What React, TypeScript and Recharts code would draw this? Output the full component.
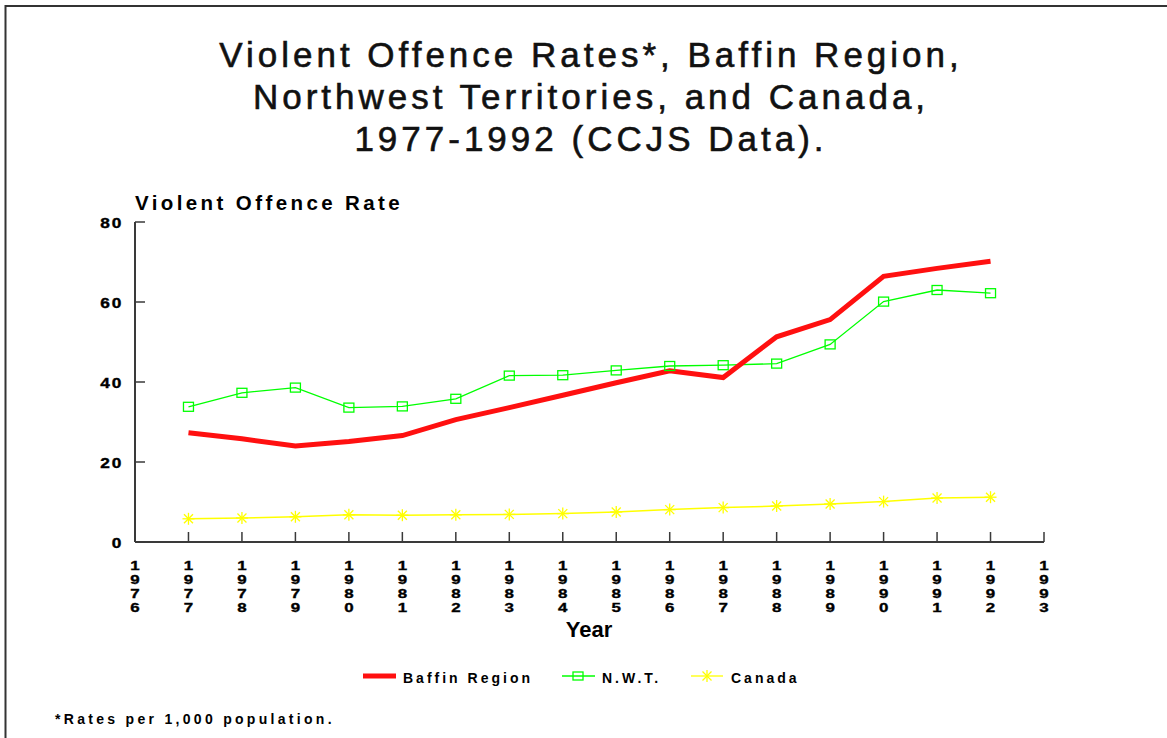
import React from 'react';
import { LineChart, Line, XAxis, YAxis } from 'recharts';

const years = [1977, 1978, 1979, 1980, 1981, 1982, 1983, 1984, 1985, 1986, 1987, 1988, 1989, 1990, 1991, 1992];
const baffinRegion = [27.3, 25.8, 24.0, 25.1, 26.6, 30.6, 33.6, 36.7, 39.8, 42.8, 41.1, 51.3, 55.6, 66.4, 68.4, 70.2];
const nwt = [33.8, 37.3, 38.6, 33.6, 33.9, 35.8, 41.6, 41.7, 42.9, 44.0, 44.2, 44.6, 49.4, 60.1, 63.0, 62.2];
const canada = [5.8, 6.0, 6.3, 6.8, 6.7, 6.8, 6.9, 7.1, 7.5, 8.1, 8.6, 9.0, 9.5, 10.1, 11.0, 11.2];
const yTicks = [0, 20, 40, 60, 80];
const xTicks = [1976, 1977, 1978, 1979, 1980, 1981, 1982, 1983, 1984, 1985, 1986, 1987, 1988, 1989, 1990, 1991, 1992, 1993];
const titleLines = [
  'Violent Offence Rates*, Baffin Region,',
  'Northwest Territories, and Canada,',
  '1977-1992 (CCJS Data).',
];
const seriesNames = ['Baffin Region', 'N.W.T.', 'Canada'];

const data = years.map((year, i) => ({
  year,
  baffin: baffinRegion[i],
  nwt: nwt[i],
  canada: canada[i],
}));

const FONT = '"Liberation Sans", Arial, Helvetica, sans-serif';
const AXIS = '#3a3a3a';
const RED = '#ff1010';
const GREEN = '#00ff00';
const YELLOW = '#ffff00';

const XTick = (props: any) => {
  const { x, y, payload } = props;
  const digits = String(payload.value).split('');
  return (
    <g>
      <line x1={x} y1={y} x2={x} y2={y - 10} stroke={AXIS} strokeWidth={1.5} />
      <text
        transform={`translate(${x},${y + 28}) scale(1.3,1.05)`}
        textAnchor="middle"
        fontFamily={FONT}
        fontWeight="bold"
        fontSize={13}
        stroke="#000"
        strokeWidth={0.35}
        fill="#000"
      >
        {digits.map((d, i) => (
          <tspan key={i} x={0} y={i * 13.2}>
            {d}
          </tspan>
        ))}
      </text>
    </g>
  );
};

const YTick = (props: any) => {
  const { x, y, payload } = props;
  return (
    <g>
      <line x1={x} y1={y} x2={x + 10} y2={y} stroke={AXIS} strokeWidth={1.5} />
      <text
        transform={`translate(${x - 12},${y + 5.5}) scale(1.15,1)`}
        x={0}
        y={0}
        textAnchor="end"
        fontFamily={FONT}
        fontWeight="bold"
        fontSize={15}
        letterSpacing={1.5}
        stroke="#000"
        strokeWidth={0.4}
        fill="#000"
      >
        {payload.value}
      </text>
    </g>
  );
};

const SquareDot = (props: any) => {
  const { cx, cy } = props;
  if (cx == null || cy == null) return null;
  return <rect x={cx - 5} y={cy - 4.5} width={10} height={9} fill="#fff" fillOpacity={0} stroke={GREEN} strokeWidth={1.3} />;
};

const StarDot = (props: any) => {
  const { cx, cy } = props;
  if (cx == null || cy == null) return null;
  const r = 6;
  const d = 4.5;
  return (
    <g stroke={YELLOW} strokeWidth={1.3}>
      <line x1={cx} y1={cy - r} x2={cx} y2={cy + r} />
      <line x1={cx - r} y1={cy} x2={cx + r} y2={cy} />
      <line x1={cx - d} y1={cy - d} x2={cx + d} y2={cy + d} />
      <line x1={cx - d} y1={cy + d} x2={cx + d} y2={cy - d} />
    </g>
  );
};

export default function App() {
  return (
    <div style={{ position: 'absolute', left: 0, top: 0, width: 1167, height: 738, background: '#fff', overflow: 'hidden' }}>
      <LineChart
        width={1167}
        height={738}
        data={data}
        margin={{ top: 222, right: 123, left: 0, bottom: 166 }}
      >
        <XAxis
          dataKey="year"
          type="number"
          domain={[1976, 1993]}
          ticks={xTicks}
          interval={0}
          tickSize={0}
          tickMargin={0}
          height={30}
          tick={<XTick />}
          axisLine={{ stroke: AXIS, strokeWidth: 2 }}
          tickLine={false}
        />
        <YAxis
          type="number"
          domain={[0, 80]}
          ticks={yTicks}
          interval={0}
          width={135}
          tickSize={0}
          tickMargin={0}
          tick={<YTick />}
          axisLine={{ stroke: AXIS, strokeWidth: 2 }}
          tickLine={false}
        />
        <Line
          dataKey="canada"
          name={seriesNames[2]}
          stroke={YELLOW}
          strokeWidth={1.5}
          dot={<StarDot />}
          isAnimationActive={false}
        />
        <Line
          dataKey="nwt"
          name={seriesNames[1]}
          stroke={GREEN}
          strokeWidth={1.3}
          dot={<SquareDot />}
          isAnimationActive={false}
        />
        <Line
          dataKey="baffin"
          name={seriesNames[0]}
          stroke={RED}
          strokeWidth={5}
          dot={false}
          isAnimationActive={false}
        />
      </LineChart>
      <svg
        width={1167}
        height={738}
        style={{ position: 'absolute', left: 0, top: 0, pointerEvents: 'none' }}
      >
        <line x1={5.5} y1={6} x2={1167} y2={6} stroke="#333" strokeWidth={2} />
        <line x1={5.5} y1={5} x2={5.5} y2={738} stroke="#333" strokeWidth={2} />
        {titleLines.map((t, i) => (
          <text
            key={i}
            x={591}
            y={67 + i * 42}
            textAnchor="middle"
            fontFamily={FONT}
            fontSize={35}
            letterSpacing={4}
            stroke="#111"
            strokeWidth={0.6}
            fill="#111"
          >
            {t}
          </text>
        ))}
        <text x={135} y={210} fontFamily={FONT} fontWeight="bold" fontSize={20.5} letterSpacing={3.4} fill="#000">
          Violent Offence Rate
        </text>
        <text x={589} y={637} textAnchor="middle" fontFamily={FONT} fontWeight="bold" fontSize={22} fill="#000">
          Year
        </text>
        <g fontFamily={FONT} fontWeight="bold" fontSize={14} letterSpacing={3} fill="#000">
          <line x1={363} y1={676} x2={396} y2={676} stroke={RED} strokeWidth={5} />
          <text x={403} y={683}>{seriesNames[0]}</text>
          <line x1={562} y1={676} x2={595} y2={676} stroke={GREEN} strokeWidth={1.3} />
          <rect x={573} y={672} width={10} height={8} fill="none" stroke={GREEN} strokeWidth={1.3} />
          <text x={602} y={683}>{seriesNames[1]}</text>
          <line x1={691} y1={676} x2={723} y2={676} stroke={YELLOW} strokeWidth={1.3} />
          <g stroke={YELLOW} strokeWidth={1.3}>
            <line x1={707} y1={670} x2={707} y2={682} />
            <line x1={702.5} y1={671.5} x2={711.5} y2={680.5} />
            <line x1={702.5} y1={680.5} x2={711.5} y2={671.5} />
          </g>
          <text x={731} y={683}>{seriesNames[2]}</text>
        </g>
        <text x={55} y={724} fontFamily={FONT} fontWeight="bold" fontSize={14} letterSpacing={3.3} fill="#000">
          *Rates per 1,000 population.
        </text>
      </svg>
    </div>
  );
}
